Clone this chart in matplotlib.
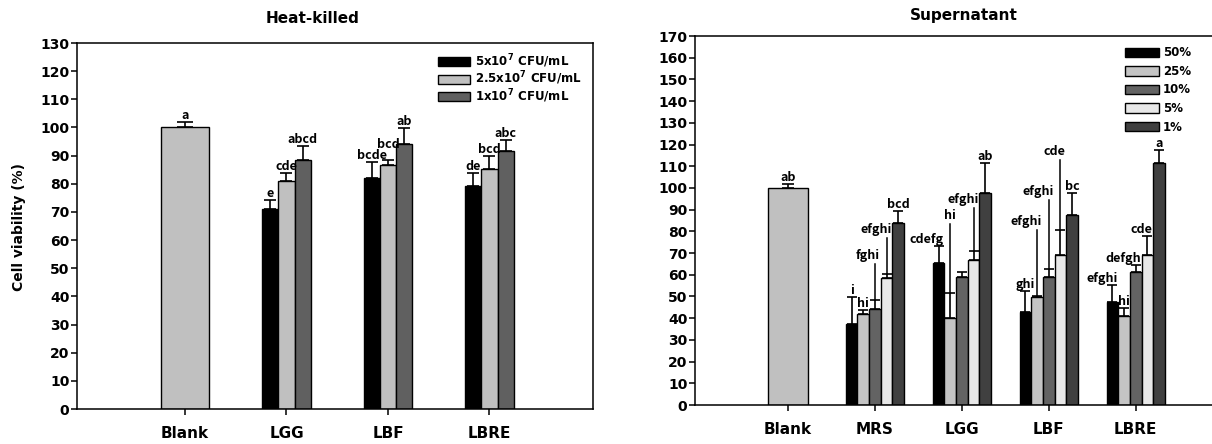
import numpy as np
import matplotlib
matplotlib.use('Agg')
import matplotlib.pyplot as plt

plt.rcParams['font.family'] = 'DejaVu Sans'
plt.rcParams['mathtext.default'] = 'bf'

# ---- heat-killed bacteria ----
hk_groups = ['LGG', 'LBF', 'LBRE']
hk_doses = ['5x10$^7$ CFU/mL', '2.5x10$^7$ CFU/mL', '1x10$^7$ CFU/mL']
hk_colors = ['#000000', '#c0c0c0', '#606060']
hk_blank = 100.0
hk_blank_err = 2.0
hk_blank_sig = 'a'
# rows = dose, columns = strain
hk_mean = [[71.0, 82.2, 79.3],
           [81.0, 86.8, 85.4],
           [88.5, 94.0, 91.7]]
hk_err = [[3.2, 5.6, 4.4],
          [2.9, 1.7, 4.6],
          [4.8, 5.9, 3.9]]
hk_sig = [['e', 'bcde', 'de'],
          ['cde', 'bcd', 'bcd'],
          ['abcd', 'ab', 'abc']]
# letters raised above their cap (None = right on the cap)
hk_sig_y = [[None, None, None],
            [None, 91.5, None],
            [None, None, None]]

# ---- culture supernatant ----
sup_groups = ['MRS', 'LGG', 'LBF', 'LBRE']
sup_conc = ['50%', '25%', '10%', '5%', '1%']
sup_colors = ['#000000', '#c4c4c4', '#636363', '#e8e8e8', '#404040']
sup_blank = 100.0
sup_blank_err = 2.0
sup_blank_sig = 'ab'
# rows = concentration, columns = strain
sup_mean = [[37.3, 65.3, 43.0, 47.3],
            [41.8, 40.0, 49.9, 40.8],
            [44.4, 59.1, 59.1, 61.1],
            [58.7, 66.8, 68.9, 69.1],
            [84.0, 97.5, 87.6, 111.5]]
sup_err = [[12.6, 8.1, 9.7, 8.2],
           [2.2, 11.5, 0.5, 3.7],
           [4.0, 2.0, 3.5, 3.4],
           [1.7, 4.0, 11.7, 8.9],
           [5.6, 13.8, 10.2, 6.1]]
sup_sig = [['i', 'cdefg', 'ghi', 'efghi'],
           ['hi', 'hi', 'efghi', 'hi'],
           ['fghi', '', 'efghi', 'defgh'],
           ['efghi', 'efghi', 'cde', 'cde'],
           ['bcd', 'ab', 'bc', 'a']]
# letters lifted to this height with a leader line (None = right on the cap)
sup_sig_y = [[None, None, None, None],
             [None, 84.3, 81.5, None],
             [66.0, None, 95.3, None],
             [77.8, 91.7, 113.8, None],
             [None, None, None, None]]
# letters set flush right at the bar centre instead of centred
sup_sig_right = [[False, True, False, True],
                 [False, True, True, False],
                 [True, False, True, True],
                 [True, True, True, True],
                 [False, False, False, False]]

SIG_FONT = dict(fontsize=9, family='Noto Sans CJK KR', fontweight='bold')


def draw_panel(ax, blank, blank_err, blank_sig, groups, labels, colors,
               means, errs, sigs, blank_w, group_w, capsize,
               sig_y=None, sig_right=None, leaders=True):
    n = len(labels)
    bw = group_w / n
    ax.bar(0, blank, blank_w, color='#c0c0c0', edgecolor='black', lw=1.0, zorder=2)
    ax.errorbar(0, blank, yerr=[[0], [blank_err]], fmt='none', ecolor='black',
                elinewidth=1.2, capsize=capsize + 1, capthick=1.2, zorder=3)
    ax.annotate(blank_sig, (0, blank + blank_err), xytext=(0, 0),
                textcoords='offset points', ha='center', va='bottom', **SIG_FONT)
    xg = np.arange(1, len(groups) + 1)
    for i in range(n):
        xs = xg + (i - (n - 1) / 2) * bw
        h = np.array(means[i])
        e = np.array(errs[i])
        ax.bar(xs, h, bw, color=colors[i], edgecolor='black', lw=1.0,
               label=labels[i], zorder=2)
        ax.errorbar(xs, h, yerr=[np.zeros_like(e), e], fmt='none', ecolor='black',
                    elinewidth=1.2, capsize=capsize, capthick=1.2, zorder=3)
        for j, x in enumerate(xs):
            s = sigs[i][j]
            if not s:
                continue
            top = h[j] + e[j]
            right = sig_right is not None and sig_right[i][j]
            tx = x + 0.06 if right else x
            ha = 'right' if right else 'center'
            ly = None if sig_y is None else sig_y[i][j]
            if ly is None:
                ax.annotate(s, (tx, top), xytext=(0, 0), textcoords='offset points',
                            ha=ha, va='bottom', **SIG_FONT)
            else:
                ax.text(tx, ly, s, ha=ha, va='bottom', **SIG_FONT)
                if leaders:
                    ax.plot([x, x], [ly - 1.0, top], color='black', lw=1.1, zorder=3)
    ax.set_xticks(np.arange(0, len(groups) + 1))
    ax.set_xticklabels(['Blank'] + groups, fontsize=11, fontweight='bold')
    ax.tick_params(axis='x', direction='out', length=4, width=1.1, pad=8)
    ax.tick_params(axis='y', direction='out', length=4, width=1.1, pad=1.5,
                   labelsize=10)
    for t in ax.get_yticklabels():
        t.set_fontweight('bold')
    for sp in ax.spines.values():
        sp.set_linewidth(1.1)


fig = plt.figure(figsize=(12.12, 4.44), dpi=100)

ax1 = fig.add_axes([0.0635, 0.0788, 0.4257, 0.8243])
ax1.set_yticks(np.arange(0, 131, 10))
draw_panel(ax1, hk_blank, hk_blank_err, hk_blank_sig, hk_groups, hk_doses,
           hk_colors, hk_mean, hk_err, hk_sig, blank_w=0.48, group_w=0.48,
           capsize=4.5, sig_y=hk_sig_y, leaders=False)
ax1.set_xlim(-1.065, 4.02)
ax1.set_ylim(0, 130)
ax1.legend(frameon=False, loc='upper left', bbox_to_anchor=(0.70, 0.975),
           borderpad=0, borderaxespad=0, handlelength=2.7, handleheight=0.8,
           handletextpad=0.4, labelspacing=0.0,
           prop={'weight': 'bold', 'size': 8.5})

ax2 = fig.add_axes([0.5734, 0.0878, 0.444, 0.831])
ax2.set_yticks(np.arange(0, 171, 10))
draw_panel(ax2, sup_blank, sup_blank_err, sup_blank_sig, sup_groups, sup_conc,
           sup_colors, sup_mean, sup_err, sup_sig, blank_w=0.47, group_w=0.67,
           capsize=3.6, sig_y=sup_sig_y, sig_right=sup_sig_right)
ax2.set_xlim(-1.07, 5.12)
ax2.set_ylim(0, 170)
ax2.spines['right'].set_visible(False)
ax2.legend(frameon=False, loc='upper left', bbox_to_anchor=(0.80, 0.972),
           borderpad=0, borderaxespad=0, handlelength=2.8, handleheight=0.85,
           handletextpad=0.35, labelspacing=0.47,
           prop={'weight': 'bold', 'size': 8.5})

fig.text(0.258, 0.959, 'Heat-killed', ha='center', va='center',
         fontsize=11, fontweight='bold')
fig.text(0.795, 0.966, 'Supernatant', ha='center', va='center',
         fontsize=11, fontweight='bold')
fig.text(0.0157, 0.489, 'Cell viability (%)', ha='center', va='center',
         rotation=90, fontsize=10, fontweight='bold')

fig.savefig('out.png', dpi=100)
